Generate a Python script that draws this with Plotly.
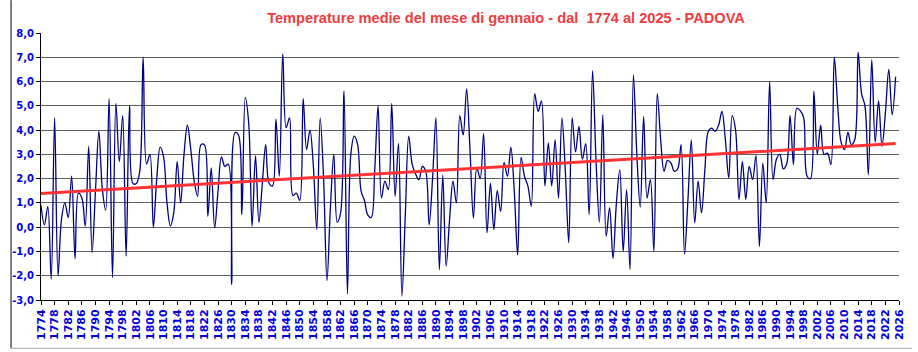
import numpy as np
import plotly.graph_objects as go

# ---- data (January mean temperature, Padova) ----
t_1774 = [0.9, 0.1, 0.85, -2.15, 4.5, -2.0]
t_1780 = [0.3, 1.0, 0.4, 2.1, -1.3, 1.4, 1.2, 0.04, 3.33, -1.05]
t_1790 = [1.5, 3.95, 1.6, 0.7, 5.3, -2.08, 5.1, 2.7, 4.6, -1.2]
t_1800 = [5.0, 1.8, 1.8, 2.3, 7.0, 2.6, 3.0, 0.0, 2.0, 3.3]
t_1810 = [2.9, 1.0, 0.05, 0.6, 2.7, 1.0, 3.0, 4.2, 3.2, 1.9]
t_1820 = [1.27, 3.4, 3.4, 0.45, 2.44, -0.03, 1.5, 2.9, 2.5, 2.6]
t_1830 = [-2.36, 3.9, 3.8, 0.52, 5.35, 4.3, 0.04, 2.95, 0.2, 1.8]
t_1840 = [3.4, 1.8, 1.7, 4.45, 2.1, 7.15, 4.1, 4.5, 1.3, 1.4]
t_1850 = [1.1, 5.3, 3.2, 4.0, 2.5, -0.1, 4.5, 2.0, -2.2, 0.8]
t_1860 = [3.0, 0.2, 0.6, 5.6, -2.75, 3.0, 3.75, 3.4, 1.5, 1.1]
t_1870 = [0.5, 0.4, 2.3, 5.0, 1.2, 1.9, 1.55, 5.1, 1.27, 3.45]
t_1880 = [-2.85, 0.5, 3.75, 2.6, 2.2, 1.95, 2.5, 2.3, 0.1, 2.0]
t_1890 = [4.5, -1.75, 2.15, -1.6, 0.3, 1.9, 1.0, 4.6, 3.8, 5.7]
t_1900 = [3.2, 0.38, 2.45, 2.0, 3.85, -0.23, 1.8, -0.1, 1.5, 0.65]
t_1910 = [2.67, 2.1, 3.3, 1.5, -1.15, 2.88, 2.1, 1.7, 0.86, 5.5]
t_1920 = [4.77, 5.2, 1.7, 3.47, 1.7, 3.6, 1.2, 4.5, 2.3, -0.64]
t_1930 = [4.5, 3.1, 4.15, 2.8, 3.44, 0.52, 6.45, 2.8, 0.2, 4.63]
t_1940 = [-0.37, 0.8, -1.29, 1.0, 2.37, -1.0, 1.55, -1.74, 6.27, 3.0]
t_1950 = [0.82, 4.56, 1.2, 1.96, -0.99, 5.5, 3.6, 2.3, 2.75, 2.65]
t_1960 = [2.3, 2.4, 3.4, -1.12, 1.1, 3.6, 0.18, 1.9, 0.59, 2.4]
t_1970 = [3.95, 4.08, 3.95, 4.2, 4.77, 3.6, 2.03, 4.6, 4.0, 1.14]
t_1980 = [2.7, 1.14, 2.5, 1.96, 2.95, -0.8, 2.64, 1.0, 6.0, 1.96]
t_1990 = [2.8, 3.0, 2.4, 2.6, 4.6, 2.58, 4.9, 4.8, 4.5, 2.1]
t_2000 = [2.0, 5.6, 3.0, 4.2, 3.0, 3.05, 2.58, 7.0, 5.0, 3.5]
t_2010 = [3.2, 3.9, 3.4, 3.6, 7.2, 5.5, 5.0, 2.16, 6.9, 3.5]
t_2020 = [5.2, 3.33, 4.7, 6.5, 4.63, 6.2]

temps = (t_1774 + t_1780 + t_1790 + t_1800 + t_1810 + t_1820 + t_1830 + t_1840
         + t_1850 + t_1860 + t_1870 + t_1880 + t_1890 + t_1900 + t_1910 + t_1920
         + t_1930 + t_1940 + t_1950 + t_1960 + t_1970 + t_1980 + t_1990 + t_2000
         + t_2010 + t_2020)
first_year = 1774
years = list(range(first_year, first_year + len(temps)))

x_tick_years = list(range(1774, 2027, 4))
y_tick_values = [-3, -2, -1, 0, 1, 2, 3, 4, 5, 6, 7, 8]
y_tick_labels = ["-3,0", "-2,0", "-1,0", "0,0", "1,0", "2,0", "3,0", "4,0",
                 "5,0", "6,0", "7,0", "8,0"]

title_text = "Temperature medie del mese di gennaio - dal  1774 al 2025 - PADOVA"

# linear trend (least squares over the series)
slope, intercept = np.polyfit(years, temps, 1)
trend_x = [years[0], years[-1]]
trend_y = [intercept + slope * x for x in trend_x]

fig = go.Figure()
fig.add_trace(go.Scatter(
    x=years, y=temps, mode="lines",
    line=dict(color="#000080", width=1.3, shape="spline", smoothing=1.0),
    hoverinfo="x+y", showlegend=False,
))
fig.add_trace(go.Scatter(
    x=trend_x, y=trend_y, mode="lines",
    line=dict(color="#ff3333", width=3),
    hoverinfo="skip", showlegend=False,
))

blue = "#0000e0"
fig.update_layout(
    width=918, height=352,
    margin=dict(l=31, r=13, t=33, b=51),
    paper_bgcolor="white", plot_bgcolor="white",
    separators=",.",
    title=dict(
        text=title_text,
        font=dict(family="Liberation Sans", size=14.6, color="#f03c3c", weight="bold"),
        x=0.542, xref="paper", xanchor="center",
        y=1 - 18 / 352, yref="container", yanchor="middle",
    ),
    xaxis=dict(
        range=[1774, 2026],
        tickmode="array", tickvals=x_tick_years,
        ticktext=[str(y) for y in x_tick_years],
        tickangle=-90,
        tickfont=dict(family="DejaVu Sans", size=11, color=blue, weight="bold"),
        ticks="outside", ticklen=4, tickcolor="black", tickwidth=1,
        showgrid=False, zeroline=False,
        showline=True, linecolor="black", linewidth=1,
    ),
    yaxis=dict(
        range=[-3, 8],
        tickmode="array", tickvals=y_tick_values, ticktext=y_tick_labels,
        tickfont=dict(family="DejaVu Sans", size=10, color=blue, weight="bold"),
        ticks="outside", ticklen=4, tickcolor="black", tickwidth=1,
        showgrid=True, gridcolor="#606060", gridwidth=1.2,
        zeroline=False,
        showline=True, linecolor="black", linewidth=1,
    ),
    shapes=[
        # chart-area frame: left edge and bottom edge
        dict(type="line", xref="paper", yref="paper",
             x0=-0.0349, x1=-0.0349, y0=-0.181, y1=1.123,
             line=dict(color="black", width=1)),
        dict(type="line", xref="paper", yref="paper",
             x0=-0.0349, x1=1.0149, y0=-0.181, y1=-0.181,
             line=dict(color="#a8a8a8", width=1)),
    ],
)

fig.write_html("out.html")
